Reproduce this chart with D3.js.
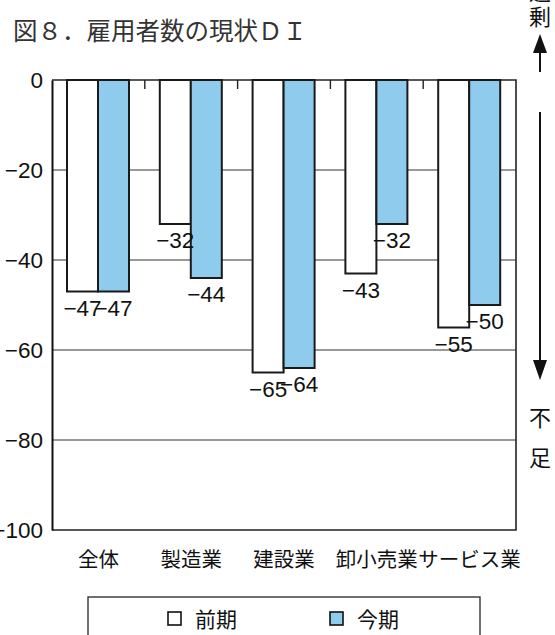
<!DOCTYPE html>
<html>
<head>
<meta charset="utf-8">
<script src="https://cdn.jsdelivr.net/npm/d3@7"></script>
<style>
  body { margin: 0; background: #fff; }
  svg { display: block; }
  .num { font-family: "Liberation Sans", Arial, sans-serif; }
  .jp { font-family: "Noto Sans CJK JP", sans-serif; }
</style>
</head>
<body>
<svg id="chart" width="555" height="635"></svg>
<script>
// data
const categories = ['全体', '製造業', '建設業', '卸小売業', 'サービス業'];
const seriesNames = ['前期', '今期'];
const prevValues = [-47, -32, -65, -43, -55];
const currValues = [-47, -44, -64, -32, -50];
const yTicks = [0, -20, -40, -60, -80, -100];

const colors = { '前期': '#ffffff', '今期': '#8ecbed' };

const svg = d3.select('#chart');

// plot frame
const plotLeft = 52, plotRight = 516, plotTop = 80, plotBottom = 530;

const x = d3.scaleBand().domain(categories).range([plotLeft, plotRight]);
const xs = d3.scaleBand().domain(seriesNames).range([15, 77]);
const y = d3.scaleLinear().domain([-100, 0]).range([plotBottom, plotTop]);

const minus = v => (v < 0 ? '\u2212' + Math.abs(v) : String(v));

// title
svg.append('text')
  .attr('class', 'jp')
  .attr('x', 13)
  .attr('y', 40)
  .attr('font-size', 24.5)
  .attr('fill', '#333')
  .text('図８．雇用者数の現状ＤＩ');

// gridlines
svg.append('g')
  .selectAll('line')
  .data(yTicks.filter(d => d !== 0 && d !== -100))
  .enter()
  .append('line')
  .attr('x1', plotLeft).attr('x2', plotRight)
  .attr('y1', d => y(d)).attr('y2', d => y(d))
  .attr('stroke', '#333')
  .attr('stroke-width', 1.2);

// frame top, right and bottom
svg.append('path')
  .attr('d', `M${plotLeft},${plotTop}H${plotRight}V${plotBottom}H${plotLeft}`)
  .attr('fill', 'none')
  .attr('stroke', '#222')
  .attr('stroke-width', 1.6);

// small ticks between categories at the top
svg.append('g')
  .selectAll('line')
  .data(categories.slice(1))
  .enter()
  .append('line')
  .attr('x1', d => x(d)).attr('x2', d => x(d))
  .attr('y1', plotTop).attr('y2', plotTop + 9)
  .attr('stroke', '#222')
  .attr('stroke-width', 1.4);

// bars
const rows = categories.map((c, i) => ({
  cat: c,
  vals: [
    { s: '前期', v: prevValues[i] },
    { s: '今期', v: currValues[i] }
  ]
}));

const groups = svg.append('g')
  .selectAll('g')
  .data(rows)
  .enter()
  .append('g')
  .attr('transform', d => `translate(${x(d.cat)},0)`);

groups.selectAll('rect')
  .data(d => d.vals)
  .enter()
  .append('rect')
  .attr('x', d => xs(d.s))
  .attr('width', xs.bandwidth())
  .attr('y', y(0))
  .attr('height', d => y(d.v) - y(0))
  .attr('fill', d => colors[d.s])
  .attr('stroke', '#1a1a1a')
  .attr('stroke-width', 2);

groups.selectAll('text')
  .data(d => d.vals)
  .enter()
  .append('text')
  .attr('class', 'num')
  .attr('x', d => xs(d.s) + xs.bandwidth() / 2)
  .attr('y', d => y(d.v) + 24)
  .attr('text-anchor', 'middle')
  .attr('font-size', 22.5)
  .attr('fill', '#111')
  .text(d => minus(d.v));

// y axis
const yAxis = d3.axisLeft(y)
  .tickValues(yTicks)
  .tickSize(0)
  .tickPadding(9)
  .tickFormat(minus);

const ya = svg.append('g')
  .attr('transform', `translate(${plotLeft},0)`)
  .call(yAxis);
ya.select('.domain').attr('stroke', '#111').attr('stroke-width', 2);
ya.attr('font-family', null);
ya.selectAll('text')
  .attr('class', 'num')
  .attr('font-size', 22.5)
  .attr('fill', '#111');

// x category labels
const xAxis = d3.axisBottom(x).tickSize(0).tickPadding(22);
const xa = svg.append('g')
  .attr('transform', `translate(0,${plotBottom})`)
  .call(xAxis);
xa.select('.domain').remove();
xa.attr('font-family', null);
xa.selectAll('text')
  .attr('class', 'jp')
  .attr('font-size', 20.5)
  .attr('fill', '#111');

// right side annotation: 過剰 / 不足 with arrows
const ann = svg.append('g').attr('class', 'jp').attr('fill', '#111');
ann.append('text').attr('x', 540).attr('y', 0).attr('text-anchor', 'middle')
  .attr('font-size', 22).text('過');
ann.append('text').attr('x', 540).attr('y', 25).attr('text-anchor', 'middle')
  .attr('font-size', 22).text('剰');
ann.append('text').attr('x', 540).attr('y', 426).attr('text-anchor', 'middle')
  .attr('font-size', 22).text('不');
ann.append('text').attr('x', 540).attr('y', 466).attr('text-anchor', 'middle')
  .attr('font-size', 22).text('足');

const ax = 540;
svg.append('line').attr('x1', ax).attr('x2', ax).attr('y1', 72).attr('y2', 50)
  .attr('stroke', '#111').attr('stroke-width', 2);
svg.append('path').attr('d', `M${ax},34L${ax - 7},53L${ax + 7},53Z`).attr('fill', '#111');
svg.append('line').attr('x1', ax).attr('x2', ax).attr('y1', 112).attr('y2', 362)
  .attr('stroke', '#111').attr('stroke-width', 2);
svg.append('path').attr('d', `M${ax},380L${ax - 7},360L${ax + 7},360Z`).attr('fill', '#111');

// legend
const lg = svg.append('g');
lg.append('rect')
  .attr('x', 88).attr('y', 597)
  .attr('width', 392).attr('height', 60)
  .attr('fill', '#fff')
  .attr('stroke', '#333')
  .attr('stroke-width', 1.4);

const legendX = { '前期': 168, '今期': 330 };
const items = lg.selectAll('g.item')
  .data(seriesNames)
  .enter()
  .append('g')
  .attr('class', 'item')
  .attr('transform', d => `translate(${legendX[d]},0)`);
items.append('rect')
  .attr('x', 0).attr('y', 612)
  .attr('width', 13).attr('height', 13)
  .attr('fill', d => colors[d])
  .attr('stroke', '#111')
  .attr('stroke-width', 1.6);
items.append('text')
  .attr('class', 'jp')
  .attr('x', 27).attr('y', 627)
  .attr('font-size', 21)
  .attr('fill', '#111')
  .text(d => d);
</script>
</body>
</html>
